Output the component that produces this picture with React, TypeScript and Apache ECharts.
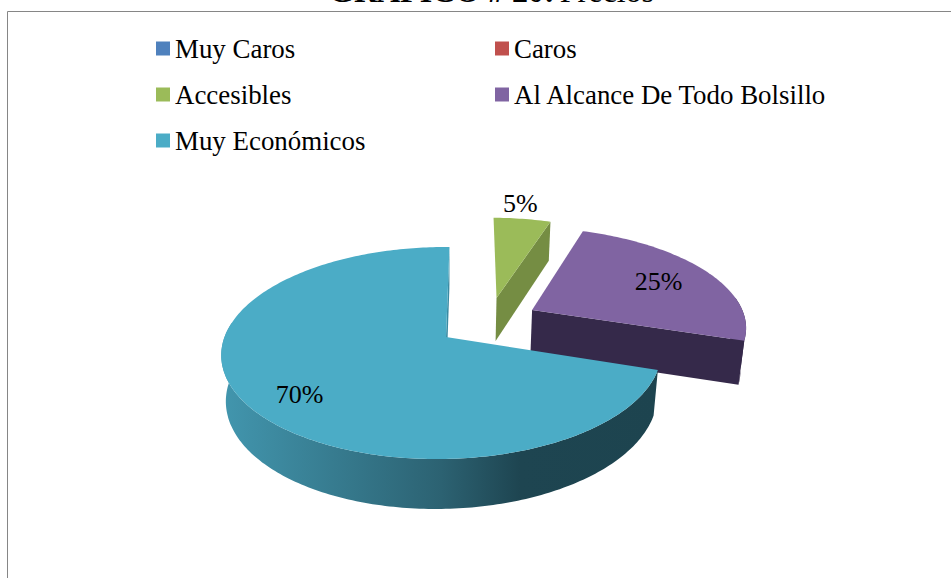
import React, { useEffect, useRef } from "react";
import * as echarts from "echarts";

const categories = ["Muy Caros", "Caros", "Accesibles", "Al Alcance De Todo Bolsillo", "Muy Económicos"];
const percentValues = [0, 0, 5, 25, 70];
const sliceColors = ["#4f81bd", "#c0504d", "#9bbb59", "#8064a2", "#4bacc6"];
const faceColors = ["#3a5f8c", "#8e3b39", "#758d43", "#35294a", "#3a8ba3"];
const titleBold = "GRAFICO # 20:";
const titleNormal = "Precios";

// Projection of the tilted disc onto the page
const VIEW = { x0: 446, y0: 337, A: 217.5, B: 103.6, S: 4, k: 0.151, m: 0.018, D: 45.8, c: 0.02 };
const EXPLODE: [number, number][] = [[0, 0], [0, 0], [0.24, 0.4], [0.41, 0.273], [0, 0]];
const WIDEN = [1, 1, 1.03, 1.04, 1];
const LABEL_RADIUS = [0, 0, 1.23, 0.68, 0.86];
const LABEL_NUDGE: [number, number][] = [[0, 0], [0, 0], [-7, 0], [6, -1], [22, 0]];
const FONT = '"Liberation Serif", "Times New Roman", serif';

function project(a: number, b: number, lower: boolean): number[] {
  const v = VIEW;
  const w = 1 + v.k * b + v.m * a + (lower ? v.c : 0);
  return [v.x0 + (v.A * a + v.S * b) / w, v.y0 + (-v.B * b + (lower ? v.D : 0)) / w];
}

function renderSlice(index: number) {
  return (_params: any, api: any) => {
    const value = api.value(0);
    if (!value) return { type: "group", children: [] };
    const total = percentValues.reduce((s, x) => s + x, 0);
    const before = percentValues.slice(0, index).reduce((s, x) => s + x, 0);
    const start = (before / total) * Math.PI * 2;
    const end = ((before + value) / total) * Math.PI * 2;
    const [ea, eb] = EXPLODE[index];
    const point = (t: number, r: number, lower: boolean) =>
      project(ea + WIDEN[index] * r * Math.sin(t), eb + r * Math.cos(t), lower);

    const steps = Math.max(4, Math.round(((end - start) * 180) / Math.PI));
    const ts: number[] = [];
    for (let i = 0; i <= steps; i++) ts.push(start + ((end - start) * i) / steps);

    const upper = ts.map((t) => point(t, 1, false));
    const nearTs = ts.filter((t) => Math.cos(t) < 0.15);
    const rimFace = [
      ...nearTs.map((t) => point(t, 1, false)),
      ...nearTs.map((t) => point(t, 1, true)).reverse(),
    ];
    const topFace = [point(0, 0, false), ...upper];
    const cutFace = [point(end, 0, false), point(end, 1, false), point(end, 1, true), point(end, 0, true)];

    const isMain = index === 4;
    const rimFill: any = isMain
      ? new echarts.graphic.LinearGradient(222, 0, 660, 0, [
          { offset: 0, color: "#4296ae" },
          { offset: 0.5, color: "#2c6272" },
          { offset: 0.68, color: "#1e4551" },
          { offset: 1, color: "#1d444f" },
        ], true)
      : faceColors[index];

    const mid = (start + end) / 2;
    const lp = point(mid, LABEL_RADIUS[index], false);
    const [nx, ny] = LABEL_NUDGE[index];

    const children: any[] = [];
    if (rimFace.length > 2) {
      children.push({ type: "polygon", shape: { points: rimFace }, style: { fill: rimFill } });
    }
    children.push(
      { type: "polygon", shape: { points: cutFace }, style: { fill: faceColors[index] } },
      { type: "polygon", shape: { points: topFace }, style: { fill: sliceColors[index] } },
      {
        type: "text",
        style: {
          text: `${value}%`,
          x: lp[0] + nx,
          y: lp[1] + ny,
          fill: "#000",
          font: `26px ${FONT}`,
          textAlign: "center",
          textVerticalAlign: "middle",
        },
      }
    );
    return { type: "group", children };
  };
}

export default function App() {
  const ref = useRef<HTMLDivElement>(null);
  useEffect(() => {
    document.body.style.margin = "0";
    const chart = echarts.init(ref.current!, undefined, { renderer: "svg" });
    const legendBase = {
      orient: "vertical" as const,
      top: 35,
      padding: 0,
      icon: "rect",
      itemWidth: 14,
      itemHeight: 14,
      itemGap: 19,
      selectedMode: false,
      textStyle: { fontFamily: FONT, fontSize: 26.9, color: "#000" },
    };
    chart.setOption({
      animation: false,
      backgroundColor: "#fff",
      title: {
        text: `{b|${titleBold}} {n|${titleNormal}}`,
        left: 329,
        top: -25,
        padding: 0,
        textStyle: {
          fontWeight: "normal",
          rich: {
            b: { fontFamily: FONT, fontSize: 32, fontWeight: "bold", color: "#000" },
            n: { fontFamily: FONT, fontSize: 32, fontWeight: "normal", color: "#000" },
          },
        },
      },
      legend: [
        { ...legendBase, left: 156, data: [categories[0], categories[2], categories[4]] },
        { ...legendBase, left: 495, data: [categories[1], categories[3]] },
      ],
      graphic: [
        {
          type: "rect",
          silent: true,
          z: -1,
          shape: { x: 7.5, y: 11.5, width: 1000, height: 700 },
          style: { fill: "none", stroke: "#868686", lineWidth: 1 },
        },
      ],
      series: categories.map((name, i) => ({
        type: "custom",
        name,
        coordinateSystem: "none",
        silent: true,
        itemStyle: { color: sliceColors[i] },
        data: [[percentValues[i]]],
        renderItem: renderSlice(i),
      })),
    });
    return () => chart.dispose();
  }, []);
  return <div ref={ref} style={{ width: 951, height: 578 }} />;
}
